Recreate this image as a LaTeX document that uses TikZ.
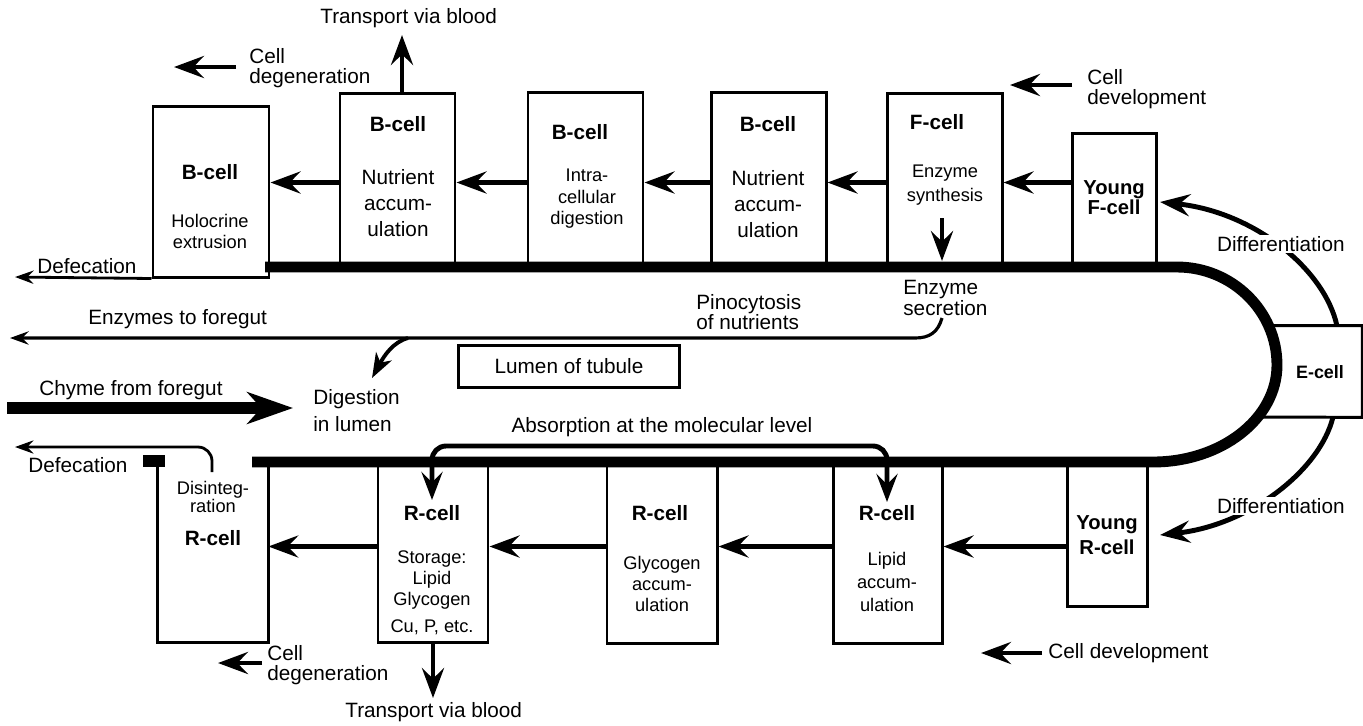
\documentclass[tikz,border=0pt]{standalone}
\usepackage{fontspec}
\setmainfont{Liberation Sans}
\usetikzlibrary{arrows.meta,fit}
\begin{document}
\begin{tikzpicture}[x=0.02cm,y=-0.02cm,
  cellbox/.style={draw, line width=1.7pt, inner sep=0pt},
  openbox/.style={inner sep=0pt},
  edge/.style={line width=1.7pt},
  wall/.style={line width=6.2pt},
  bigarrow/.style={line width=2.8pt, -{Stealth[length=17pt,width=12.5pt,inset=6pt]}},
  thinarrow/.style={line width=1.6pt, -{Stealth[length=10.5pt,width=7.5pt,inset=3.5pt]}},
  chymearrow/.style={line width=6.8pt, -{Stealth[length=26pt,width=18pt,inset=8pt]}},
  absarrow/.style={line width=2.8pt, rounded corners=8pt,
     {Stealth[length=16pt,width=12pt,inset=6pt]}-{Stealth[length=16pt,width=12pt,inset=6pt]}},
  lab/.style={inner sep=0pt, font=\fontsize{11.8}{13.5}\selectfont},
  blab/.style={inner sep=0pt, font=\bfseries\fontsize{11.8}{13.5}\selectfont},
  slab/.style={inner sep=0pt, align=center},
  difflab/.style={inner sep=1pt, fill=white, font=\fontsize{11.8}{13.5}\selectfont}
]
\useasboundingbox (0,0) rectangle (1363,725);

% ---------- cell boxes ----------
\node[cellbox, fit={(153,106) (269,277)}] (b1) {};
\node[cellbox, fit={(340,93) (455,267)}] (b2) {};
\node[cellbox, fit={(528,92) (643,267)}] (b3) {};
\node[cellbox, fit={(711,92) (826,267)}] (b4) {};
\node[cellbox, fit={(887,93) (1002,267)}] (fc) {};
\node[cellbox, fit={(1072,133) (1156,267)}] (yf) {};

\node[openbox, fit={(158,467) (268,642)}] (r1) {};
\draw[edge] (r1.north west) -- (r1.south west) -- (r1.south east) -- ([yshift=0.1cm]r1.north east);
\node[cellbox, fit={(378,462) (488,642)}] (r2) {};
\node[cellbox, fit={(607,462) (717,643)}] (r3) {};
\node[cellbox, fit={(833,462) (942,643)}] (r4) {};
\node[cellbox, fit={(1067,462) (1147,606)}] (yr) {};

\node[openbox, fit={(1268,326) (1362,417)}] (ec) {};
\coordinate (ecBL) at (1257,417);
\draw[edge] (ec.north west) -- (ec.north east) -- (ec.south east) -- (ecBL);

% ---------- tubule wall ----------
\draw[wall] (265,267) -- (1177,267)
  .. controls (1232,267) and (1277,311) .. (1277,365)
  .. controls (1277,419) and (1221,462) .. (1153,462) -- (252,462);
\fill (143,455) rectangle (165,467);

% ---------- labels in cells ----------
\node[blab] (b1t) at (210,172) {B-cell};
\node[slab, font=\fontsize{10.4}{12}\selectfont] (b1d) at (210,231) {Holocrine\\extrusion};
\node[blab] (b2t) at (398,124) {B-cell};
\node[slab, font=\fontsize{11.8}{14.7}\selectfont] (b2d) at (398,203) {Nutrient\\accum-\\ulation};
\node[blab] (b3t) at (580,132) {B-cell};
\node[slab, font=\fontsize{10.4}{12.2}\selectfont] (b3d) at (587,199) {Intra-\\cellular\\digestion};
\node[blab] (b4t) at (768,124) {B-cell};
\node[slab, font=\fontsize{11.8}{14.7}\selectfont] (b4d) at (768,204) {Nutrient\\accum-\\ulation};
\node[blab] (fct) at (937,122) {F-cell};
\node[slab, font=\fontsize{10.4}{14}\selectfont] (fcd) at (945,185) {Enzyme\\synthesis};
\node[slab, font=\bfseries\fontsize{11.5}{11.3}\selectfont] (yft) at (1114,198) {Young\\F-cell};

\node[slab, font=\fontsize{10.4}{10.3}\selectfont] (r1d) at (213,497) {Disinteg-\\ration};
\node[blab] (r1t) at (213,538) {R-cell};
\node[blab] (r2t) at (432,513) {R-cell};
\node[slab, font=\fontsize{10.4}{12}\selectfont] (r2d) at (432,580) {Storage:\\Lipid\\Glycogen};
\node[slab, font=\fontsize{10.4}{12}\selectfont] (r2e) at (432,627) {Cu, P, etc.};
\node[blab] (r3t) at (660,513) {R-cell};
\node[slab, font=\fontsize{10.4}{12}\selectfont] (r3d) at (662,584) {Glycogen\\accum-\\ulation};
\node[blab] (r4t) at (887,513) {R-cell};
\node[slab, font=\fontsize{10.4}{13}\selectfont] (r4d) at (887,582) {Lipid\\accum-\\ulation};
\node[slab, font=\bfseries\fontsize{11.5}{14.2}\selectfont] (yrt) at (1107,535) {Young\\R-cell};
\node[inner sep=0pt, font=\bfseries\fontsize{10.2}{12}\selectfont] (ect) at (1320,372) {E-cell};

% ---------- development arrows between cells ----------
\coordinate (rowT) at (0,182.5);
\coordinate (rowB) at (0,546.5);
\draw[bigarrow] (b2.west |- rowT) -- (b1.east |- rowT);
\draw[bigarrow] (b3.west |- rowT) -- (b2.east |- rowT);
\draw[bigarrow] (b4.west |- rowT) -- (b3.east |- rowT);
\draw[bigarrow] (fc.west |- rowT) -- (b4.east |- rowT);
\draw[bigarrow] (yf.west |- rowT) -- (fc.east |- rowT);
\draw[bigarrow] (r2.west |- rowB) -- (r1.east |- rowB);
\draw[bigarrow] (r3.west |- rowB) -- (r2.east |- rowB);
\draw[bigarrow] (r4.west |- rowB) -- (r3.east |- rowB);
\draw[bigarrow] (yr.west |- rowB) -- (r4.east |- rowB);

% ---------- transport via blood ----------
\coordinate (tTop) at (402,35);
\draw[bigarrow] (b2.north -| tTop) -- (tTop);
\node[lab, anchor=west] (tvbT) at (320,18) {Transport via blood};
\coordinate (tBot) at (433,698);
\draw[bigarrow] (r2.south -| tBot) -- (tBot);
\node[lab, anchor=west] (tvbB) at (345,712) {Transport via blood};

% ---------- cell degeneration / development ----------
\coordinate (cdTa) at (236,67); \coordinate (cdTb) at (174,67);
\draw[bigarrow] (cdTa) -- (cdTb);
\node[lab, anchor=west, align=left, font=\fontsize{11.8}{11}\selectfont] (cdTl) at (249,68) {Cell\\degeneration};
\coordinate (cvTa) at (1072,85); \coordinate (cvTb) at (1010,85);
\draw[bigarrow] (cvTa) -- (cvTb);
\node[lab, anchor=west, align=left, font=\fontsize{11.8}{11.3}\selectfont] (cvTl) at (1087,89) {Cell\\development};
\coordinate (cdBa) at (262,663); \coordinate (cdBb) at (218,663);
\draw[bigarrow] (cdBa) -- (cdBb);
\node[lab, anchor=west, align=left, font=\fontsize{11.8}{11}\selectfont] (cdBl) at (267,665) {Cell\\degeneration};
\coordinate (cvBa) at (1042,653); \coordinate (cvBb) at (981,653);
\draw[bigarrow] (cvBa) -- (cvBb);
\node[lab, anchor=west] (cvBl) at (1048,653) {Cell development};

% ---------- differentiation ----------
\coordinate (dUs) at (1337,326); \coordinate (dUe) at (1160,202);
\draw[bigarrow] (dUs) .. controls (1325,270) and (1255,212) .. (dUe);
\node[difflab, anchor=west] (dUl) at (1215,244) {Differentiation};
\coordinate (dLs) at (1333,417); \coordinate (dLe) at (1160,535);
\draw[bigarrow] (dLs) .. controls (1320,470) and (1250,525) .. (dLe);
\node[difflab, anchor=west] (dLl) at (1215,506) {Differentiation};

% ---------- enzyme synthesis / secretion ----------
\coordinate (esA) at (942,218); \coordinate (esB) at (942,261);
\draw[bigarrow] (esA) -- (esB);
\node[lab, anchor=west, align=left, font=\fontsize{11.8}{11.9}\selectfont] (esl) at (903,298) {Enzyme\\secretion};
\coordinate (esec) at (942,318);
\coordinate (etf) at (10,338);
\draw[thinarrow, line width=1.8pt] (esec) .. controls (938,332) and (930,338) .. (915,338) -- (etf);
\node[lab, anchor=west] (etfl) at (88,319) {Enzymes to foregut};
\node[lab, anchor=west, align=left, font=\fontsize{11.8}{11.3}\selectfont] (pino) at (696,312) {Pinocytosis\\of nutrients};
\coordinate (brS) at (408,338);
\coordinate (digTip) at (372,378);
\draw[line width=2.2pt, -{Stealth[length=14pt,width=10pt,inset=4pt]}] (brS) .. controls (393,342) and (384,356) .. (digTip);
\node[lab, anchor=west, align=left, font=\fontsize{11.8}{15.3}\selectfont] (dig) at (313,411) {Digestion\\in lumen};

% ---------- lumen ----------
\node[draw, line width=1.7pt, lab, minimum width=4.44cm, minimum height=0.84cm] (lumen) at (569,366) {Lumen of tubule};

% ---------- chyme ----------
\coordinate (chA) at (7,408); \coordinate (chB) at (293,408);
\draw[chymearrow] (chA) -- (chB);
\node[lab, anchor=west] (chl) at (39,390) {Chyme from foregut};

% ---------- absorption ----------
\coordinate (abL) at (432,500); \coordinate (abR) at (887,502); \coordinate (abRow) at (0,446);
\draw[absarrow] (abL) -- (abL |- abRow) -- (abR |- abRow) -- (abR);
\node[lab] (abl) at (662,427) {Absorption at the molecular level};

% ---------- defecation ----------
\coordinate (dfT) at (15,277);
\draw[thinarrow] (b1.south west) -- (dfT);
\node[lab, anchor=west] (dfTl) at (37,266) {Defecation};
\coordinate (dfBs) at (212,472); \coordinate (dfBe) at (15,447);
\draw[thinarrow, rounded corners=8pt] (dfBs) -- (dfBs |- dfBe) -- (dfBe);
\node[lab, anchor=west] (dfBl) at (28,465) {Defecation};
\end{tikzpicture}
\end{document}
